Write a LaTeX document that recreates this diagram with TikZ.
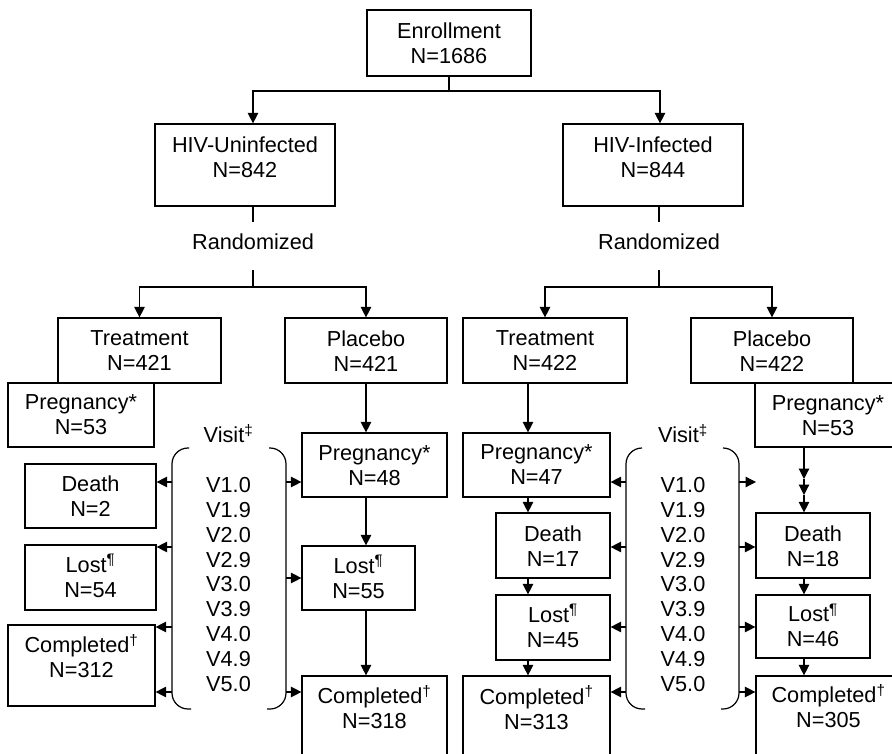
\documentclass[tikz,border=0pt]{standalone}
\usepackage{fontspec}
\setmainfont{Liberation Sans}
\usetikzlibrary{arrows.meta}
\newcommand\sups[1]{\smash{\textsuperscript{#1}}}
\begin{document}
\begin{tikzpicture}[x=1pt,y=-1pt,
  boxst/.style={draw, line width=1.2pt, inner sep=0pt, rectangle},
  txt/.style={inner sep=0pt, align=center, font=\fontsize{21.7}{25}\selectfont},
  conn/.style={line width=1.2pt},
  arr/.style={conn, -{Triangle[length=10.5pt,width=10.5pt]}},
  brk/.style={line width=1.2pt, rounded corners=16pt}]
\useasboundingbox (0,0) rectangle (892,754);
\clip (0,0) rectangle (892,754);
\newcommand\mybox[7]{%
  \node[boxst, minimum width={#4-#2}, minimum height={#5-#3}] (#1) at ({(#2+#4)/2},{(#3+#5)/2}) {};
  \node[txt] (#1-t) at ({(#2+#4)/2},#6) {#7};}
% top
\mybox{enr}{367}{10}{531}{76}{43.5}{Enrollment\\N=1686}
\mybox{hivu}{155}{124}{335}{206}{157.5}{HIV-Uninfected\\N=842}
\mybox{hivi}{563}{124}{743}{206}{157.5}{HIV-Infected\\N=844}
\node[txt] (rndL) at (253,242) {Randomized};
\node[txt] (rndR) at (659,242) {Randomized};
% arms
\mybox{trtL}{58}{318}{221}{383}{351}{Treatment\\N=421}
\mybox{plcL}{285}{318}{447}{383}{351}{Placebo\\N=421}
\mybox{trtR}{463}{318}{627}{383}{351}{Treatment\\N=422}
\mybox{plcR}{691}{318}{853}{383}{351}{Placebo\\N=422}
\mybox{p53L}{8}{383}{154}{447}{414.5}{Pregnancy*\\N=53}
\mybox{p53R}{755}{383}{901}{447}{415.5}{Pregnancy*\\N=53}
% left outcomes
\mybox{d2}{25}{464}{156}{528}{496.5}{Death\\N=2}
\mybox{l54}{25}{545}{156}{610}{577.5}{Lost\sups{¶}\\N=54}
\mybox{c312}{8}{625}{155}{706}{657.5}{Completed\sups{†}\\N=312}
\mybox{p48}{302}{433}{447}{497}{465.5}{Pregnancy*\\N=48}
\mybox{l55}{302}{546}{415}{610}{578.5}{Lost\sups{¶}\\N=55}
\mybox{c318}{302}{676}{447}{800}{708.5}{Completed\sups{†}\\N=318}
% right outcomes
\mybox{p47}{463}{433}{610}{497}{465}{Pregnancy*\\N=47}
\mybox{d17}{496}{513}{610}{578}{546}{Death\\N=17}
\mybox{l45}{496}{595}{610}{660}{627.5}{Lost\sups{¶}\\N=45}
\mybox{c313}{463}{676}{610}{800}{709}{Completed\sups{†}\\N=313}
\mybox{d18}{756}{513}{870}{578}{546.5}{Death\\N=18}
\mybox{l46}{756}{595}{870}{658}{627}{Lost\sups{¶}\\N=46}
\mybox{c305}{756}{676}{901}{800}{707.5}{Completed\sups{†}\\N=305}
% visit labels
\node[txt] (visL) at (228.5,435) {Visit\sups{‡}};
\node[txt] (visR) at (683,435) {Visit\sups{‡}};
\node[txt, font=\fontsize{21.7}{24.9}\selectfont] (vL) at (228.5,584.5) {V1.0\\V1.9\\V2.0\\V2.9\\V3.0\\V3.9\\V4.0\\V4.9\\V5.0};
\node[txt, font=\fontsize{21.7}{24.9}\selectfont] (vR) at (683,584.5) {V1.0\\V1.9\\V2.0\\V2.9\\V3.0\\V3.9\\V4.0\\V4.9\\V5.0};
% brackets
\draw[brk] (189,448) -- (172,448) -- (172,709) -- (191,709);
\draw[brk] (269,448) -- (286,448) -- (286,709) -- (267,709);
\draw[brk] (642,448) -- (626,448) -- (626,709) -- (645,709);
\draw[brk] (723,448) -- (739,448) -- (739,709) -- (721,709);
% junctions
\coordinate (j1) at (449,91);
\coordinate (j2) at (253,287);
\coordinate (j3) at (659,287);
\coordinate (cR) at (528,0);
\coordinate (cP) at (804,0);
\coordinate (m1) at (804,479);
\coordinate (m2) at (804,495);
% tree connectors
\draw[conn] (enr.south) -- (j1);
\draw[arr] (j1) -| ([xshift=8pt]hivu.north);
\draw[arr] (j1) -| ([xshift=7pt]hivi.north);
\draw[conn] (hivu.south -| rndL) -- ([yshift=12pt]rndL.north);
\draw[conn] (hivi.south -| rndR) -- ([yshift=12pt]rndR.north);
\draw[conn] ([yshift=-20pt]rndL.south) -- (j2);
\draw[conn] ([yshift=-20pt]rndR.south) -- (j3);
\draw[arr] (j2) -| (trtL.north);
\draw[arr] (j2) -| (plcL.north);
\draw[arr] (j3) -| (trtR.north);
\draw[arr] (j3) -| (plcR.north);
% placebo (uninfected) chain
\draw[arr] (plcL.south) -- (plcL.south |- p48.north);
\draw[arr] (plcL.south |- p48.south) -- (plcL.south |- l55.north);
\draw[arr] (plcL.south |- l55.south) -- (plcL.south |- c318.north);
% treatment (infected) chain
\draw[arr] (cR |- trtR.south) -- (cR |- p47.north);
\draw[arr] (cR |- p47.south) -- (cR |- d17.north);
\draw[arr] (cR |- d17.south) -- (cR |- l45.north);
\draw[arr] (cR |- l45.south) -- (cR |- c313.north);
% placebo (infected) chain
\draw[arr] (cP |- p53R.south) -- (m1);
\draw[arr] (m1) -- (m2);
\draw[arr] (m2) -- (cP |- d18.north);
\draw[arr] (cP |- d18.south) -- (cP |- l46.north);
\draw[arr] (cP |- l46.south) -- (cP |- c305.north);
% bracket arrows
\coordinate (bl1) at (172,482); \coordinate (bl2) at (172,547);
\coordinate (bl3) at (172,627); \coordinate (bl4) at (172,692);
\coordinate (br1) at (286,482); \coordinate (br2) at (286,578);
\coordinate (br3) at (286,692);
\coordinate (ml1) at (626,482); \coordinate (ml2) at (626,547);
\coordinate (ml3) at (626,627); \coordinate (ml4) at (626,692);
\coordinate (mr1) at (739,482); \coordinate (mr1e) at (756,482);
\coordinate (mr2) at (739,547); \coordinate (mr3) at (739,627);
\coordinate (mr4) at (739,692);
\draw[arr] (bl1) -- (bl1 -| d2.east);
\draw[arr] (bl2) -- (bl2 -| l54.east);
\draw[arr] (bl3) -- (bl3 -| c312.east);
\draw[arr] (bl4) -- (bl4 -| c312.east);
\draw[arr] (br1) -- (br1 -| p48.west);
\draw[arr] (br2) -- (br2 -| l55.west);
\draw[arr] (br3) -- (br3 -| c318.west);
\draw[arr] (ml1) -- (ml1 -| p47.east);
\draw[arr] (ml2) -- (ml2 -| d17.east);
\draw[arr] (ml3) -- (ml3 -| l45.east);
\draw[arr] (ml4) -- (ml4 -| c313.east);
\draw[arr] (mr1) -- (mr1e);
\draw[arr] (mr2) -- (mr2 -| d18.west);
\draw[arr] (mr3) -- (mr3 -| l46.west);
\draw[arr] (mr4) -- (mr4 -| c305.west);
\end{tikzpicture}
\end{document}
